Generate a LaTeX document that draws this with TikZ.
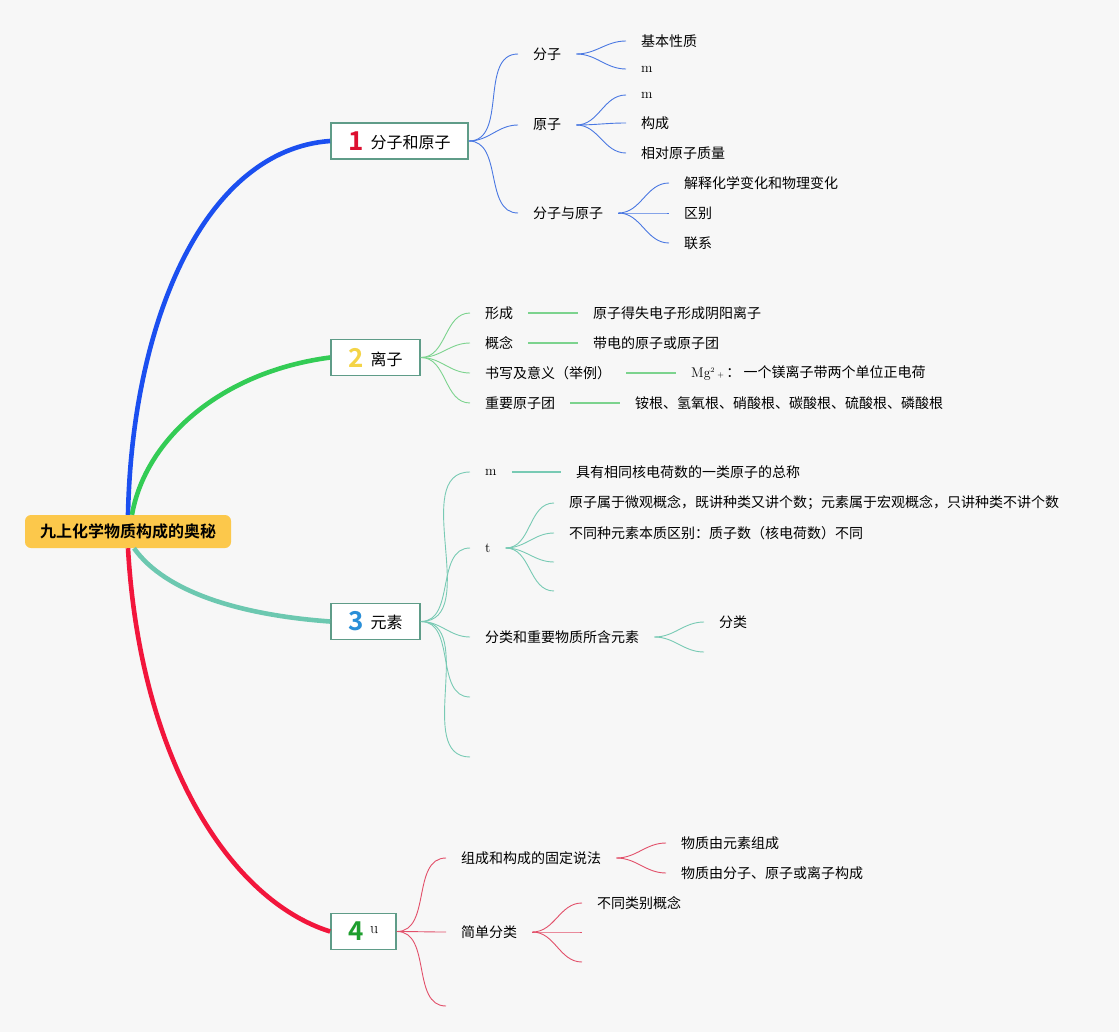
\documentclass[tikz,border=0pt]{standalone}
\usepackage{fontspec}
\newfontfamily\cjk{Noto Sans CJK SC}[BoldFont={Noto Sans CJK SC Bold}]
\usetikzlibrary{calc}
\definecolor{bgc}{HTML}{F7F7F7}
\definecolor{rootc}{HTML}{FCC84B}
\definecolor{boxc}{HTML}{5F9C88}
\definecolor{mblue}{HTML}{1B4FF0}
\definecolor{mgreen}{HTML}{33CC55}
\definecolor{mteal}{HTML}{6CC8B0}
\definecolor{mred}{HTML}{F2163C}
\definecolor{tblue}{HTML}{4A78E2}
\definecolor{tgreen}{HTML}{7CD38E}
\definecolor{tteal}{HTML}{78CAB4}
\definecolor{tred}{HTML}{E2506A}
\definecolor{dred}{HTML}{DD1030}
\definecolor{dyellow}{HTML}{F4D447}
\definecolor{dblue}{HTML}{2A8FD8}
\definecolor{dgreen}{HTML}{1E9E2E}

\begin{document}
\begin{tikzpicture}[x=1pt, y=-1pt,
    root/.style={fill=rootc, rounded corners=6pt, minimum height=33pt, inner xsep=15pt,
      font=\cjk\bfseries\fontsize{16}{18}\selectfont},
    topic/.style={draw=boxc, line width=1.8pt, fill=white, minimum height=36pt, inner xsep=0pt,
      font=\cjk\fontsize{16}{18}\selectfont},
    txt/.style={anchor=west, inner xsep=15pt, inner ysep=2pt, font=\cjk\fontsize{14}{16}\selectfont},
    main/.style={line width=4.6pt},
    thin/.style={line width=0.9pt},
    link/.style={line width=1.2pt}]
      % background and size
      \fill[bgc] (0,0) rectangle (1119,1032);
      \useasboundingbox (0,0) rectangle (1119,1032);

      \node[root] (root) at (128,531.5) {九上化学物质构成的奥秘};

      \node[topic, minimum width=137pt] (b1) at (399.5,141) {{\color{dred}\fontsize{26}{26}\bfseries 1}\hspace{7pt}\raisebox{2pt}{分子和原子}};
      \node[topic, minimum width=89pt] (b2) at (375.5,357.5) {{\color{dyellow}\fontsize{26}{26}\bfseries 2}\hspace{7pt}\raisebox{2pt}{离子}};
      \node[topic, minimum width=89pt] (b3) at (375.5,621.5) {{\color{dblue}\fontsize{26}{26}\bfseries 3}\hspace{7pt}\raisebox{2pt}{元素}};
      \node[topic, minimum width=65pt] (b4) at (363.5,931.5) {{\color{dgreen}\fontsize{26}{26}\bfseries 4}\hspace{6pt}\raisebox{7pt}{\rmfamily u}};

      \draw[main, mblue] (root.north) .. controls (132,320) and (205,150) .. (b1.west);
      \draw[main, mgreen] ($(root.north)+(4,0)$) .. controls (145,440) and (220,372) .. (b2.west);
      \draw[main, mteal] ($(root.south)+(6,0)$) .. controls (165,592) and (240,615) .. (b3.west);
      \draw[main, mred] (root.south) .. controls (140,760) and (230,900) .. (b4.west);

      % 1
      \node[txt] (a1) at (518,54) {分子};
      \node[txt] (a2) at (518,125) {原子};
      \node[txt] (a3) at (518,213) {分子与原子};
      \node[txt] (a11) at (626,41) {基本性质};
      \node[txt] (a12) at (626,69) {\rmfamily m};
      \node[txt] (a21) at (626,95) {\rmfamily m};
      \node[txt] (a22) at (626,123) {构成};
      \node[txt] (a23) at (626,153) {相对原子质量};
      \node[txt] (a31) at (669,183) {解释化学变化和物理变化};
      \node[txt] (a32) at (669,213) {区别};
      \node[txt] (a33) at (669,243) {联系};

      \draw[thin, tblue] (b1.east) to[out=0, in=180] (a1.west);
      \draw[thin, tblue] (b1.east) to[out=0, in=180] (a2.west);
      \draw[thin, tblue] (b1.east) to[out=0, in=180] (a3.west);
      \draw[thin, tblue] (a1.east) to[out=0, in=180] (a11.west);
      \draw[thin, tblue] (a1.east) to[out=0, in=180] (a12.west);
      \draw[thin, tblue] (a2.east) to[out=0, in=180] (a21.west);
      \draw[thin, tblue] (a2.east) to[out=0, in=180] (a22.west);
      \draw[thin, tblue] (a2.east) to[out=0, in=180] (a23.west);
      \draw[thin, tblue] (a3.east) to[out=0, in=180] (a31.west);
      \draw[thin, tblue] (a3.east) to[out=0, in=180] (a32.west);
      \draw[thin, tblue] (a3.east) to[out=0, in=180] (a33.west);

      % 2
      \node[txt] (c1) at (470,313) {形成};
      \node[txt] (c2) at (470,343) {概念};
      \node[txt] (c3) at (470,373) {书写及意义（举例）};
      \node[txt] (c4) at (470,403) {重要原子团};
      \node[txt] (c11) at (578,313) {原子得失电子形成阴阳离子};
      \node[txt] (c21) at (578,343) {带电的原子或原子团};
      \node[txt] (c31) at (676,373) {{\rmfamily Mg\textsuperscript{\scriptsize 2}\,{\footnotesize +}}\,： 一个镁离子带两个单位正电荷};
      \node[txt] (c41) at (620,403) {铵根、氢氧根、硝酸根、碳酸根、硫酸根、磷酸根};

      \draw[thin, tgreen] (b2.east) to[out=0, in=180] (c1.west);
      \draw[thin, tgreen] (b2.east) to[out=0, in=180] (c2.west);
      \draw[thin, tgreen] (b2.east) to[out=0, in=180] (c3.west);
      \draw[thin, tgreen] (b2.east) to[out=0, in=180] (c4.west);
      \draw[link, tgreen] (c1.east) -- (c11.west);
      \draw[link, tgreen] (c2.east) -- (c21.west);
      \draw[link, tgreen] (c3.east) -- (c31.west);
      \draw[link, tgreen] (c4.east) -- (c41.west);

      % 3
      \node[txt] (d1) at (470,472) {\rmfamily m};
      \node[txt] (d2) at (470,548) {\rmfamily t};
      \node[txt] (d3) at (470,637) {分类和重要物质所含元素};
      \coordinate (d4) at (470,697);
      \coordinate (d5) at (470,757);
      \node[txt] (d11) at (561,472) {具有相同核电荷数的一类原子的总称};
      \node[txt] (d21) at (554,503) {原子属于微观概念，既讲种类又讲个数；元素属于宏观概念，只讲种类不讲个数};
      \node[txt] (d22) at (554,533) {不同种元素本质区别：质子数（核电荷数）不同};
      \coordinate (d23) at (554,562);
      \coordinate (d24) at (554,591);
      \node[txt] (d31) at (704,622) {分类};
      \coordinate (d32) at (704,652);

      \draw[thin, tteal] (b3.east) to[out=0, in=180] (d1.west);
      \draw[thin, tteal] (b3.east) to[out=0, in=180] (d2.west);
      \draw[thin, tteal] (b3.east) to[out=0, in=180] (d3.west);
      \draw[thin, tteal] (b3.east) to[out=0, in=180] (d4);
      \draw[thin, tteal] (b3.east) to[out=0, in=180] (d5);
      \draw[link, tteal] (d1.east) -- (d11.west);
      \draw[thin, tteal] (d2.east) to[out=0, in=180] (d21.west);
      \draw[thin, tteal] (d2.east) to[out=0, in=180] (d22.west);
      \draw[thin, tteal] (d2.east) to[out=0, in=180] (d23);
      \draw[thin, tteal] (d2.east) to[out=0, in=180] (d24);
      \draw[thin, tteal] (d3.east) to[out=0, in=180] (d31.west);
      \draw[thin, tteal] (d3.east) to[out=0, in=180] (d32);

      % 4
      \node[txt] (g1) at (446,858) {组成和构成的固定说法};
      \node[txt] (g2) at (446,932) {简单分类};
      \coordinate (g3) at (446,1006);
      \node[txt] (g11) at (666,843) {物质由元素组成};
      \node[txt] (g12) at (666,873) {物质由分子、原子或离子构成};
      \node[txt] (g21) at (582,903) {不同类别概念};
      \coordinate (g22) at (582,932);
      \coordinate (g23) at (582,962);

      \draw[thin, tred] (b4.east) to[out=0, in=180] (g1.west);
      \draw[thin, tred] (b4.east) to[out=0, in=180] (g2.west);
      \draw[thin, tred] (b4.east) to[out=0, in=180] (g3);
      \draw[thin, tred] (g1.east) to[out=0, in=180] (g11.west);
      \draw[thin, tred] (g1.east) to[out=0, in=180] (g12.west);
      \draw[thin, tred] (g2.east) to[out=0, in=180] (g21.west);
      \draw[thin, tred] (g2.east) to[out=0, in=180] (g22);
      \draw[thin, tred] (g2.east) to[out=0, in=180] (g23);
\end{tikzpicture}
\end{document}
